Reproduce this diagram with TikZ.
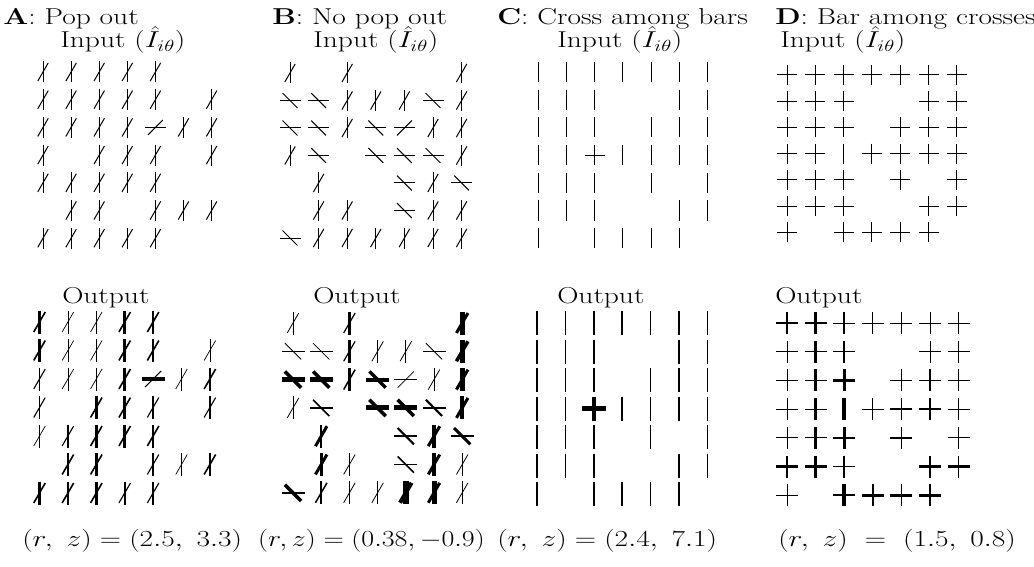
\RequirePackage{fix-cm}
\documentclass[tikz,border=0pt]{standalone}
\usepackage{amsmath}
\usepackage{tikz}
\usetikzlibrary{positioning}

% angles of the two bars of each kind of element
\def\firsta{90}\def\seconda{60}
\def\firstt{0}\def\secondt{45}
\def\firstn{0}\def\secondn{-45}
\def\firstc{90}\def\secondc{0}
\def\firstv{90}\def\secondv{90}

\newcommand{\duo}[4]{%
  \edef\pa{\csname first#2\endcsname}\edef\pb{\csname second#2\endcsname}%
  \draw[line width=#3] (#1) +(\pa:\hl) -- +(\pa+180:\hl);
  \draw[line width=#4] (#1) +(\pb:\hl) -- +(\pb+180:\hl);}

\def\spots{1/1,2/1,3/1,4/1,5/1,6/1,7/1,1/2,2/2,3/2,6/2,7/2,1/3,2/3,3/3,5/3,6/3,7/3,
  1/4,2/4,4/4,5/4,6/4,7/4,1/5,2/5,3/5,5/5,7/5,1/6,2/6,3/6,6/6,7/6,1/7,3/7,4/7,5/7,6/7}

\begin{document}
\begin{tikzpicture}[
        x=1pt, y=1pt,
        lbl/.style={font=\fontsize{23}{27}\selectfont, xscale=1.28, anchor=base west, inner sep=0pt}
    ]
    \useasboundingbox (0,0) rectangle (1034,-567);

    % Titles
    \node[lbl] (titleA) at (3,-25) {\textbf{A}: Pop out};
    \node[lbl] (titleB) at (272,-25) {\textbf{B}: No pop out};
    \node[lbl] (titleC) at (497,-25) {\textbf{C}: Cross among bars};
    \node[lbl] (titleD) at (775,-25) {\textbf{D}: Bar among crosses};

    \node[lbl] (inA) at (60,-48) {Input ($\hat{I}_{i\theta}$)};
    \node[lbl] (inB) at (313,-48) {Input ($\hat{I}_{i\theta}$)};
    \node[lbl] (inC) at (557,-48) {Input ($\hat{I}_{i\theta}$)};
    \node[lbl] (inD) at (780,-48) {Input ($\hat{I}_{i\theta}$)};

    \node[lbl] (outA) at (62,-303) {Output};
    \node[lbl] (outB) at (313,-303) {Output};
    \node[lbl] (outC) at (557,-303) {Output};
    \node[lbl] (outD) at (775,-303) {Output};

    \node[lbl] (rzA) at (22,-546) {$(r,\ z)=(2.5,\ 3.3)$};
    \node[lbl, xscale=0.95] (rzB) at (258,-546) {$(r,z)=(0.38,-0.9)$};
    \node[lbl] (rzC) at (497,-546) {$(r,\ z)=(2.4,\ 7.1)$};
    \node[lbl] (rzD) at (778,-546) {$(r,\ z)\ =\ (1.5,\ 0.8)$};

    % A: input and output
    \begin{scope}[shift={(14.9,-44.3)}, x=28.1pt, y=-27.7pt]
      \def\hl{10.5pt}
      \foreach \col/\row/\kind in {1/1/a,2/1/a,3/1/a,4/1/a,5/1/a,
          1/2/a,2/2/a,3/2/a,4/2/a,5/2/a,7/2/a,
          1/3/a,2/3/a,3/3/a,4/3/a,5/3/t,6/3/a,7/3/a,
          1/4/a,3/4/a,4/4/a,5/4/a,7/4/a,
          1/5/a,2/5/a,3/5/a,4/5/a,5/5/a,
          2/6/a,3/6/a,5/6/a,6/6/a,7/6/a,
          1/7/a,2/7/a,3/7/a,4/7/a,5/7/a}
        \duo{\col,\row}{\kind}{1pt}{1pt};
    \end{scope}
    \begin{scope}[shift={(11.1,-293.5)}, x=28.4pt, y=-28.5pt]
      \def\hl{11.5pt}
      \foreach \col/\row/\kind/\wa/\wb in {1/1/a/2.6/1.6,2/1/a/0.8/0.7,3/1/a/0.8/0.7,4/1/a/2.6/1.6,5/1/a/2.6/1.6,
          1/2/a/2.6/1.6,2/2/a/0.8/0.7,3/2/a/0.8/0.7,4/2/a/2.6/1.6,5/2/a/2.6/1.6,7/2/a/0.8/0.7,
          1/3/a/1.6/1.1,2/3/a/0.8/0.7,3/3/a/0.8/0.7,4/3/a/2.6/1.6,5/3/t/4/1,6/3/a/0.8/0.7,7/3/a/2.6/1.6,
          1/4/a/1.6/1.1,3/4/a/2.6/1.6,4/4/a/2.6/1.6,5/4/a/1.6/1.1,7/4/a/1.6/1.1,
          1/5/a/0.8/0.7,2/5/a/1.6/1.1,3/5/a/2.6/1.6,4/5/a/2.6/1.6,5/5/a/2.6/1.6,
          2/6/a/2.6/1.6,3/6/a/2.6/1.6,5/6/a/1.6/1.1,6/6/a/0.8/0.7,7/6/a/2.6/1.6,
          1/7/a/2.6/1.6,2/7/a/2.6/1.6,3/7/a/2.6/1.6,4/7/a/1.6/1.1,5/7/a/1.6/1.1}
        \duo{\col,\row}{\kind}{\wa pt}{\wb pt};
    \end{scope}

    % B: input and output
    \begin{scope}[shift={(261.4,-45.5)}, x=28.6pt, y=-27.5pt]
      \def\hl{10.5pt}
      \foreach \col/\row/\kind in {1/1/a,3/1/a,7/1/a,
          1/2/n,2/2/n,3/2/a,4/2/a,5/2/a,6/2/n,7/2/a,
          1/3/n,2/3/n,3/3/a,4/3/n,5/3/t,6/3/a,7/3/a,
          1/4/a,2/4/n,4/4/n,5/4/n,6/4/n,7/4/a,
          2/5/a,5/5/n,6/5/a,7/5/n,
          2/6/a,3/6/a,5/6/n,6/6/a,7/6/a,
          1/7/n,2/7/a,3/7/a,4/7/a,5/7/a,6/7/a,7/7/a}
        \duo{\col,\row}{\kind}{1pt}{1pt};
    \end{scope}
    \begin{scope}[shift={(264.8,-294.7)}, x=28.2pt, y=-28.3pt]
      \def\hl{11.5pt}
      \foreach \col/\row/\kind/\wa/\wb in {1/1/a/0.8/0.8,3/1/a/3.5/1.2,7/1/a/5/3,
          1/2/n/0.8/0.8,2/2/n/0.8/0.8,3/2/a/3.5/1.2,4/2/a/0.8/0.8,5/2/a/0.8/0.8,6/2/n/0.8/0.8,7/2/a/5/3.5,
          1/3/n/5/3.5,2/3/n/5/3.5,3/3/a/3.5/1.5,4/3/n/4/3.5,5/3/t/0.8/0.8,6/3/a/0.8/0.8,7/3/a/5/3,
          1/4/a/0.8/0.8,2/4/n/2/1.5,4/4/n/5/3.5,5/4/n/5/3.5,6/4/n/2.5/2,7/4/a/4.5/3,
          2/5/a/2.5/3,5/5/n/1.5/2,6/5/a/4/3,7/5/n/2/3,
          2/6/a/3/3,3/6/a/0.8/0.8,5/6/n/1.2/1.5,6/6/a/4/3,7/6/a/0.8/0.8,
          1/7/n/2/3.5,2/7/a/2/1.5,3/7/a/0.8/0.8,4/7/a/0.8/0.8,5/7/a/6/4,6/7/a/5/3,7/7/a/0.8/0.8}
        \duo{\col,\row}{\kind}{\wa pt}{\wb pt};
    \end{scope}

    % C: input and output
    \begin{scope}[shift={(509.7,-44.3)}, x=28.3pt, y=-27.7pt]
      \def\hl{10pt}
      \foreach \col/\row in \spots
        \duo{\col,\row}{v}{1pt}{1pt};
      \duo{3,4}{c}{1pt}{1pt};
    \end{scope}
    \begin{scope}[shift={(508.6,-294.5)}, x=28.4pt, y=-28.5pt]
      \def\hl{12pt}
      \foreach \col/\row in \spots
        \duo{\col,\row}{v}{1.6pt}{1.6pt};
      \duo{4,4}{v}{0.6pt}{0.6pt};
      \duo{3,4}{c}{4.5pt}{4.5pt};
    \end{scope}

    % D: input and output
    \begin{scope}[shift={(758.7,-48.8)}, x=28.3pt, y=-26.2pt]
      \def\hl{10pt}
      \foreach \col/\row in \spots
        \duo{\col,\row}{c}{1pt}{1pt};
      \duo{3,4}{v}{1pt}{1pt};
    \end{scope}
    \begin{scope}[shift={(758.4,-294.3)}, x=28.6pt, y=-28.7pt]
      \def\hl{11pt}
      \foreach \col/\row/\wa/\wb in {1/1/2.5/1.2,2/1/3/1.2,3/1/1.5/1,4/1/1/1,5/1/1/1,6/1/0.7/0.7,7/1/1/1,
          1/2/1/1,2/2/3/1.2,3/2/2.5/1.2,6/2/0.7/0.7,7/2/1/1,
          1/3/1/1,2/3/3.5/1.5,3/3/3/2.5,5/3/0.7/0.7,6/3/2/1.5,7/3/0.7/0.7,
          1/4/1/1,2/4/3.5/1.2,4/4/1/1,5/4/1/2.5,6/4/2/1.5,7/4/1/1,
          1/5/1/1,2/5/3/1.2,3/5/3/2,5/5/1/2.5,7/5/1/1,
          1/6/2.5/3.5,2/6/3.5/3,3/6/2.5/1.5,6/6/1.5/3.5,7/6/1.5/3.5,
          1/7/1/1,3/7/3.5/2.5,4/7/1.5/3,5/7/1/3,6/7/1.5/3}
        \duo{\col,\row}{c}{\wa pt}{\wb pt};
      \duo{3,4}{v}{3.5pt}{3.5pt};
    \end{scope}

\end{tikzpicture}
\end{document}
